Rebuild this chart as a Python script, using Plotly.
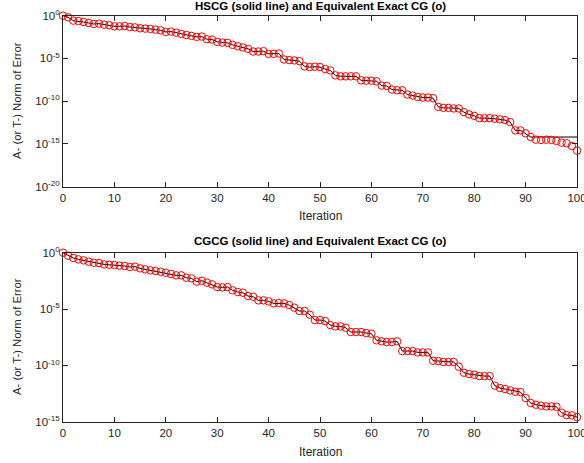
import plotly.graph_objects as go

# iterations
iters = list(range(0, 101))

# log10 of A-norm error, exact CG (top panel)
log_exact_top = [
    0.00, -0.19, -0.58, -0.62, -0.74, -0.85, -0.97, -0.93, -1.05, -1.12,
    -1.24, -1.24, -1.20, -1.32, -1.36, -1.47, -1.51, -1.55, -1.63, -1.71,
    -1.90, -1.86, -1.98, -2.13, -2.25, -2.36, -2.48, -2.44, -2.75, -2.79,
    -3.06, -3.14, -3.18, -3.41, -3.57, -3.72, -3.88, -4.19, -4.19, -4.15,
    -4.46, -4.46, -4.42, -5.12, -5.19, -5.23, -5.31, -5.93, -6.01, -5.97,
    -6.01, -6.24, -6.40, -6.98, -7.09, -7.09, -7.09, -7.09, -7.56, -7.60,
    -7.60, -7.67, -8.18, -8.22, -8.64, -8.72, -8.72, -9.22, -9.34, -9.50,
    -9.57, -9.57, -9.65, -10.66, -10.78, -10.78, -10.85, -10.85, -11.28, -11.55,
    -11.71, -11.98, -11.98, -11.98, -12.05, -12.13, -12.21, -12.44, -13.41, -13.41,
    -13.76, -14.19, -14.50, -14.53, -14.50, -14.53, -14.65, -14.84, -14.92, -15.23,
    -15.78,
]

# log10 of HSCG error (solid line, top panel)
log_hscg_top = [
    0.00, -0.19, -0.58, -0.62, -0.74, -0.85, -0.97, -0.93, -1.05, -1.12,
    -1.24, -1.24, -1.20, -1.32, -1.36, -1.47, -1.51, -1.55, -1.63, -1.71,
    -1.90, -1.86, -1.98, -2.13, -2.25, -2.36, -2.48, -2.44, -2.75, -2.79,
    -3.06, -3.14, -3.18, -3.41, -3.57, -3.72, -3.88, -4.19, -4.19, -4.15,
    -4.46, -4.46, -4.42, -5.12, -5.19, -5.23, -5.31, -5.93, -6.01, -5.97,
    -6.01, -6.24, -6.40, -6.98, -7.09, -7.09, -7.09, -7.09, -7.56, -7.60,
    -7.60, -7.67, -8.18, -8.22, -8.64, -8.72, -8.72, -9.22, -9.34, -9.50,
    -9.57, -9.57, -9.65, -10.66, -10.78, -10.78, -10.85, -10.85, -11.28, -11.55,
    -11.71, -11.98, -11.98, -11.98, -12.05, -12.13, -12.21, -12.44, -13.41, -13.41,
    -13.76, -14.19, -14.19, -14.19, -14.19, -14.19, -14.19, -14.19, -14.19, -14.19,
    -14.19,
]

# log10 of error, exact CG (bottom panel)
log_exact_bot = [
    0.00, -0.27, -0.47, -0.59, -0.68, -0.80, -0.89, -0.92, -1.04, -1.07,
    -1.09, -1.15, -1.18, -1.27, -1.24, -1.39, -1.48, -1.57, -1.63, -1.69,
    -1.78, -1.89, -2.01, -2.01, -2.22, -2.28, -2.57, -2.49, -2.66, -2.81,
    -3.05, -3.08, -3.05, -3.34, -3.49, -3.55, -3.85, -3.91, -4.23, -4.23,
    -4.32, -4.50, -4.47, -4.50, -4.65, -4.88, -5.18, -5.18, -5.50, -5.98,
    -5.98, -6.07, -6.42, -6.54, -6.54, -6.66, -7.04, -7.04, -7.04, -7.13,
    -7.19, -7.78, -7.87, -7.93, -7.93, -7.87, -8.73, -8.73, -8.73, -8.85,
    -8.85, -8.85, -9.59, -9.62, -9.70, -9.70, -9.70, -10.12, -10.65, -10.77,
    -10.83, -10.95, -10.95, -10.95, -11.80, -12.01, -12.10, -12.22, -12.34, -12.37,
    -12.90, -13.34, -13.49, -13.58, -13.64, -13.64, -13.67, -14.20, -14.41, -14.44,
    -14.59,
]

# log10 of CGCG error (solid line, bottom panel)
log_cgcg_bot = list(log_exact_bot)

top_tickvals = [0, -5, -10, -15, -20]
bot_tickvals = [0, -5, -10, -15]
x_tickvals = [0, 10, 20, 30, 40, 50, 60, 70, 80, 90, 100]

title_top = "HSCG (solid line) and Equivalent Exact CG (o)"
title_bot = "CGCG (solid line) and Equivalent Exact CG (o)"
ylabel = "A- (or T-) Norm of Error"
xlabel = "Iteration"

W, H = 584, 463
AX = "#262626"
FONT = "Liberation Sans, Arial, Helvetica, sans-serif"


def tolin(v):
    return [10 ** e for e in v]


def sup_labels(vals):
    return ["10<sup>%d</sup>" % v for v in vals]


fig = go.Figure()

fig.add_trace(go.Scatter(x=iters, y=tolin(log_hscg_top), mode="lines",
                         line=dict(color="black", width=1),
                         xaxis="x", yaxis="y", showlegend=False, cliponaxis=False))
fig.add_trace(go.Scatter(x=iters, y=tolin(log_exact_top), mode="markers",
                         marker=dict(symbol="circle-open", color="red", size=7.5,
                                     line=dict(width=1, color="red")),
                         xaxis="x", yaxis="y", showlegend=False, cliponaxis=False))
fig.add_trace(go.Scatter(x=iters, y=tolin(log_cgcg_bot), mode="lines",
                         line=dict(color="black", width=1),
                         xaxis="x2", yaxis="y2", showlegend=False, cliponaxis=False))
fig.add_trace(go.Scatter(x=iters, y=tolin(log_exact_bot), mode="markers",
                         marker=dict(symbol="circle-open", color="red", size=7.5,
                                     line=dict(width=1, color="red")),
                         xaxis="x2", yaxis="y2", showlegend=False, cliponaxis=False))

xdom = [63 / W, 577 / W]
ytop = [1 - 186.7 / H, 1 - 15.7 / H]
ybot = [1 - 421.7 / H, 1 - 252.7 / H]

common_x = dict(range=[0, 100], tickvals=x_tickvals, ticks="inside", ticklen=5,
                tickcolor=AX, showline=True, linecolor=AX, linewidth=1,
                mirror="ticks", showgrid=False, zeroline=False, automargin=False,
                ticklabeloverflow="allow",
                tickfont=dict(family=FONT, size=11.5, color=AX))
common_y = dict(type="log", ticks="inside", ticklen=5, tickcolor=AX,
                showline=True, linecolor=AX, linewidth=1, mirror="ticks",
                showgrid=False, zeroline=False, automargin=False,
                ticklabeloverflow="allow",
                tickfont=dict(family=FONT, size=11.5, color=AX))

fig.update_layout(
    width=W, height=H,
    margin=dict(l=0, r=0, t=0, b=0),
    paper_bgcolor="white", plot_bgcolor="white",
    font=dict(family=FONT, color=AX),
    xaxis=dict(domain=xdom, anchor="y", **common_x),
    yaxis=dict(domain=ytop, anchor="x", range=[-20, 0],
               tickvals=[10 ** v for v in top_tickvals],
               ticktext=sup_labels(top_tickvals), **common_y),
    xaxis2=dict(domain=xdom, anchor="y2", **common_x),
    yaxis2=dict(domain=ybot, anchor="x2", range=[-15, 0],
                tickvals=[10 ** v for v in bot_tickvals],
                ticktext=sup_labels(bot_tickvals), **common_y),
)

cx = (xdom[0] + xdom[1]) / 2
ann = [
    dict(text="<b>%s</b>" % title_top, x=cx, y=1 - 6 / H, size=11.5, color="black"),
    dict(text="<b>%s</b>" % title_bot, x=cx, y=1 - 241 / H, size=11.5, color="black"),
    dict(text=xlabel, x=cx, y=1 - 216 / H, size=12, color=AX),
    dict(text=xlabel, x=cx, y=1 - 452 / H, size=12, color=AX),
    dict(text=ylabel, x=17 / W, y=1 - 101 / H, textangle=-90, size=11.3, color=AX),
    dict(text=ylabel, x=17 / W, y=1 - 337 / H, textangle=-90, size=11.3, color=AX),
]
for a in ann:
    size = a.pop("size")
    color = a.pop("color")
    fig.add_annotation(xref="paper", yref="paper", showarrow=False,
                       xanchor="center", yanchor="middle",
                       font=dict(family=FONT, size=size, color=color), **a)

fig.write_html("out.html", config={"displayModeBar": False},
               post_script="document.body.style.margin='0';document.body.style.overflow='hidden';")
